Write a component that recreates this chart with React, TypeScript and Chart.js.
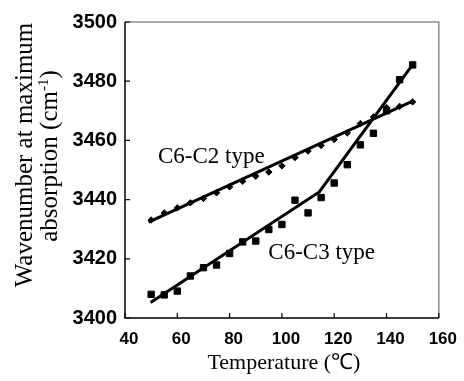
import React, { useEffect, useRef } from "react";
import { Chart, registerables } from "chart.js";

Chart.register(...registerables);

const temperatures = [50, 55, 60, 65, 70, 75, 80, 85, 90, 95, 100, 105, 110, 115, 120, 125, 130, 135, 140, 145, 150];
const c6c2Values = [3433.1, 3435.5, 3437.2, 3438.9, 3440.4, 3442.3, 3444.3, 3446.2, 3447.9, 3449.3, 3451.4, 3454.2, 3456.4, 3458.3, 3460.3, 3462.5, 3465.7, 3467.9, 3471.1, 3471.5, 3473.0];
const c6c3Values = [3408.0, 3407.8, 3409.1, 3414.2, 3417.0, 3417.9, 3421.8, 3425.7, 3426.0, 3429.9, 3431.6, 3439.8, 3435.5, 3440.7, 3445.6, 3451.8, 3458.5, 3462.4, 3470.0, 3480.5, 3485.5];

const c6c2LineX = [49, 150];
const c6c2LineY = [3432.4, 3473.3];
const c6c3LineX = [49.8, 114.3, 150];
const c6c3LineY = [3405.2, 3442.6, 3485.6];

const xTicks = [40, 60, 80, 100, 120, 140, 160];
const yTicks = [3400, 3420, 3440, 3460, 3480, 3500];

const labelTexts = ["C6-C2 type", "C6-C3 type"];
const labelX = [52.6, 94.8];
const labelY = [3452.2, 3420.1];

const xTitle = "Temperature (\u2103)";
const yTitleLine1 = "Wavenumber at maximum";
const yTitleLine2 = ["absorption (cm", "-1", ")"];

const toPoints = (xs: number[], ys: number[]) => xs.map((x, i) => ({ x, y: ys[i] }));

const framePlugin = {
  id: "frame",
  beforeDatasetsDraw(chart: any) {
    const { ctx, chartArea } = chart;
    const { left, right, top, bottom } = chartArea;
    const xs = chart.scales.x;
    const ys = chart.scales.y;
    ctx.save();
    ctx.strokeStyle = "#8c8c8c";
    ctx.lineWidth = 1.5;
    ctx.beginPath();
    ctx.moveTo(left, top);
    ctx.lineTo(right, top);
    ctx.lineTo(right, bottom);
    ctx.stroke();
    ctx.strokeStyle = "#000";
    ctx.lineWidth = 1.5;
    ctx.beginPath();
    ctx.moveTo(left, top);
    ctx.lineTo(left, bottom);
    ctx.lineTo(right, bottom);
    ctx.stroke();
    ctx.lineWidth = 1.2;
    ctx.beginPath();
    xTicks.forEach((v) => {
      const px = xs.getPixelForValue(v);
      ctx.moveTo(px, bottom);
      ctx.lineTo(px, bottom - 5);
    });
    yTicks.forEach((v) => {
      const py = ys.getPixelForValue(v);
      ctx.moveTo(left, py);
      ctx.lineTo(left + 5, py);
    });
    ctx.stroke();
    ctx.restore();
  },
  afterDraw(chart: any) {
    const { ctx, chartArea } = chart;
    const xs = chart.scales.x;
    const ys = chart.scales.y;
    ctx.save();
    ctx.fillStyle = "#000";
    ctx.font = '23px "Liberation Serif", serif';
    ctx.textAlign = "left";
    ctx.textBaseline = "alphabetic";
    labelTexts.forEach((t, i) => {
      ctx.fillText(t, xs.getPixelForValue(labelX[i]), ys.getPixelForValue(labelY[i]));
    });
    ctx.font = '22px "Liberation Serif", serif';
    ctx.textAlign = "center";
    ctx.fillText(xTitle, (chartArea.left + chartArea.right) / 2 + 2, 369);
    ctx.save();
    ctx.translate(31.5, 155);
    ctx.rotate(-Math.PI / 2);
    ctx.font = '25px "Liberation Serif", serif';
    ctx.textAlign = "center";
    ctx.fillText(yTitleLine1, 0, 0);
    ctx.restore();
    ctx.save();
    ctx.translate(57, 156);
    ctx.rotate(-Math.PI / 2);
    ctx.textAlign = "left";
    const big = '25px "Liberation Serif", serif';
    const small = '15px "Liberation Serif", serif';
    ctx.font = big;
    const w1 = ctx.measureText(yTitleLine2[0]).width;
    const w3 = ctx.measureText(yTitleLine2[2]).width;
    ctx.font = small;
    const w2 = ctx.measureText(yTitleLine2[1]).width;
    let x0 = -(w1 + w2 + w3) / 2;
    ctx.font = big;
    ctx.fillText(yTitleLine2[0], x0, 0);
    x0 += w1;
    ctx.font = small;
    ctx.fillText(yTitleLine2[1], x0, -9);
    x0 += w2;
    ctx.font = big;
    ctx.fillText(yTitleLine2[2], x0, 0);
    ctx.restore();
    ctx.restore();
  },
};

export default function App() {
  const ref = useRef<HTMLCanvasElement>(null);
  useEffect(() => {
    if (!ref.current) return;
    const chart = new Chart(ref.current, {
      type: "scatter",
      data: {
        datasets: [
          {
            label: "C6-C3 data",
            data: toPoints(temperatures, c6c3Values),
            pointStyle: "rect",
            pointRadius: 4.5,
            backgroundColor: "#000",
            borderColor: "#000",
            borderWidth: 1,
            showLine: false,
          },
          {
            label: "C6-C2 data",
            data: toPoints(temperatures, c6c2Values),
            pointStyle: "rectRot",
            pointRadius: 3.2,
            backgroundColor: "#000",
            borderColor: "#000",
            borderWidth: 1,
            showLine: false,
          },
          {
            label: "C6-C2 line",
            data: toPoints(c6c2LineX, c6c2LineY),
            showLine: true,
            borderColor: "#000",
            borderWidth: 3,
            pointRadius: 0,
            fill: false,
          },
          {
            label: "C6-C3 line",
            data: toPoints(c6c3LineX, c6c3LineY),
            showLine: true,
            borderColor: "#000",
            borderWidth: 3,
            pointRadius: 0,
            fill: false,
          },
        ],
      },
      options: {
        responsive: false,
        animation: false,
        layout: { padding: { top: 22, right: 25, left: 0, bottom: 0 } },
        plugins: { legend: { display: false }, tooltip: { enabled: false } },
        scales: {
          x: {
            type: "linear",
            min: 40,
            max: 160,
            afterBuildTicks: (s: any) => {
              s.ticks = xTicks.map((v) => ({ value: v }));
            },
            afterFit: (s: any) => {
              s.height = 63;
            },
            grid: { display: false, drawTicks: false },
            border: { display: false },
            ticks: {
              padding: 11,
              labelOffset: 4,
              color: "#000",
              callback: (v: any) => String(v),
              font: { family: '"Liberation Sans", Arial, sans-serif', size: 17, weight: "bold" },
            },
          },
          y: {
            type: "linear",
            min: 3400,
            max: 3500,
            afterBuildTicks: (s: any) => {
              s.ticks = yTicks.map((v) => ({ value: v }));
            },
            afterFit: (s: any) => {
              s.width = 125;
            },
            grid: { display: false, drawTicks: false },
            border: { display: false },
            ticks: {
              padding: 8,
              color: "#000",
              callback: (v: any) => String(v),
              font: { family: '"Liberation Sans", Arial, sans-serif', size: 20, weight: "bold" },
            },
          },
        },
      },
      plugins: [framePlugin],
    });
    return () => chart.destroy();
  }, []);
  return (
    <div style={{ position: "absolute", left: 0, top: 0, width: 464, height: 381, background: "#fff" }}>
      <canvas ref={ref} width={464} height={381} style={{ display: "block" }} />
    </div>
  );
}
